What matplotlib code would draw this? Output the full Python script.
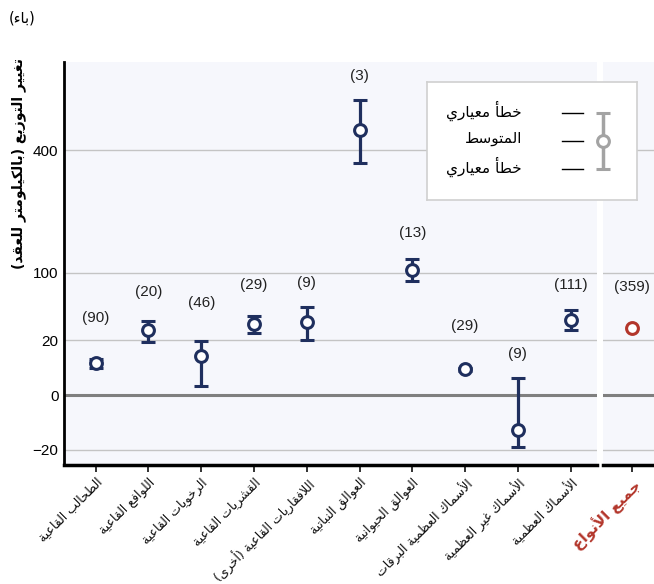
import numpy as np
import matplotlib
matplotlib.use("Agg")
import matplotlib.pyplot as plt
from matplotlib.lines import Line2D

# ---- data ----
groups = ["الطحالب القاعية", "اللوافع القاعية", "الرخويات القاعية", "القشريات القاعية",
          "اللافقاريات القاعية (أخرى)", "العوالق النباتية", "العوالق الحيوانية",
          "الأسماك العظمية البرقات", "الأسماك غير العظمية", "الأسماك العظمية"]
means = [6.8, 28, 10, 34, 36, 469, 105, 4.4, -8, 38]
ses = [2.0, 9, 9.5, 8, 16, 111, 18, 0.5, 10, 10]
counts = [90, 20, 46, 29, 9, 3, 13, 29, 9, 111]

all_label = "جميع الأنواع"
all_mean = [30]
all_se = [1.0]
all_count = [359]

yticks = [-20, 0, 20, 100, 400]
ylabel = "تغيير التوزيع (بالكيلومتر للعقد)"
panel_tag = "(باء)"
legend_texts = ["خطأ معياري", "المتوسط", "خطأ معياري"]

# label distance above the upper error bar (pixels)
label_pad = [41, 29, 38, 31, 24, 24, 26, 42, 24, 25]
all_pad = [40]

# ---- simple arabic shaping (presentation forms) ----
AR_LETTERS = "ءآأؤإئابةتثجحخدذرزسشصضطظعغفقكلمنهوىي"
AR_NFORMS = [1, 2, 2, 2, 2, 4, 2, 4, 2] + [4] * 5 + [2] * 4 + [4] * 15 + [2, 2, 4]
TABLE = {}
pos = 0xFE80
for ch, n in zip(AR_LETTERS, AR_NFORMS):
    TABLE[ch] = (pos, n)
    pos += n
LAM_ALEF = {"آ": 0xFEF5, "أ": 0xFEF7, "إ": 0xFEF9, "ا": 0xFEFB}
MIRROR = {"(": ")", ")": "("}


def joins_next(u):
    return isinstance(u, str) and u in TABLE and TABLE[u][1] == 4


def joins_prev(u):
    if isinstance(u, tuple):
        return True
    return u in TABLE and TABLE[u][1] >= 2


def ar(text):
    units = []
    i = 0
    while i < len(text):
        c = text[i]
        if c == "ل" and i + 1 < len(text) and text[i + 1] in LAM_ALEF:
            units.append(("LA", text[i + 1]))
            i += 2
        else:
            units.append(c)
            i += 1
    out = []
    for k, u in enumerate(units):
        prev = units[k - 1] if k > 0 else None
        nxt = units[k + 1] if k + 1 < len(units) else None
        cp = prev is not None and joins_next(prev)
        if isinstance(u, tuple):
            out.append(chr(LAM_ALEF[u[1]] + (1 if cp else 0)))
            continue
        if u not in TABLE:
            out.append(MIRROR.get(u, u))
            continue
        start, n = TABLE[u]
        if n == 1:
            out.append(chr(start))
            continue
        cn = n == 4 and nxt is not None and joins_prev(nxt)
        f = 3 if (cp and cn) else 1 if cp else 2 if cn else 0
        out.append(chr(start + f))
    return "".join(reversed(out))


# ---- style ----
navy = "#1f2f5e"
red = "#b3362b"
bg = "#f6f7fc"
ARF = ["DejaVu Sans"]
NUMF = ["Liberation Sans", "DejaVu Sans"]


def fwd(y):
    y = np.asarray(y, dtype=float)
    return np.sign(y) * np.sqrt(np.abs(y))


def inv(y):
    y = np.asarray(y, dtype=float)
    return np.sign(y) * y ** 2


W, H = 654, 584
fig = plt.figure(figsize=(W / 100, H / 100), dpi=100)
ax = fig.add_axes([64 / W, 1 - 465 / H, (597 - 64) / W, (465 - 62) / H])
ax2 = fig.add_axes([603 / W, 1 - 465 / H, 51 / W, (465 - 62) / H])

ymin, ymax = -32.6, 739

for a in (ax, ax2):
    a.set_facecolor(bg)
    a.set_yscale("function", functions=(fwd, inv))
    a.set_ylim(ymin, ymax)
    for t in yticks:
        if t == 0:
            a.axhline(0, color="#7f7f7f", lw=2.2, zorder=1)
        else:
            a.axhline(t, color="#c4c4c4", lw=1, zorder=1)
    for s in ("top", "right"):
        a.spines[s].set_visible(False)
    a.spines["bottom"].set_linewidth(2.5)
    a.tick_params(axis="x", length=5, width=1.3, color="#222222", pad=3)

ax2.spines["left"].set_visible(False)
ax.spines["left"].set_linewidth(2)

x = np.arange(len(groups))
ax.errorbar(x, means, yerr=ses, fmt="o", color=navy, ecolor=navy, elinewidth=2.3,
            capsize=5, capthick=2.3, ms=8.5, mfc="white", mec=navy, mew=2.2, zorder=3)
ax.set_xlim(-0.6, len(groups) - 0.5)
for xi, m, s, c, p in zip(x, means, ses, counts, label_pad):
    ax.annotate(f"({c})", (xi, m + s), xytext=(0, p * 0.72), textcoords="offset points",
                ha="center", va="center", fontsize=11, family=NUMF, color="#222222")

ax2.errorbar([0], all_mean, yerr=all_se, fmt="o", color=red, ecolor=red, elinewidth=2,
             capsize=3, ms=8.5, mfc="white", mec=red, mew=2.2, zorder=3)
ax2.set_xlim(-0.55, 0.42)
for m, s, c, p in zip(all_mean, all_se, all_count, all_pad):
    ax2.annotate(f"({c})", (0, m + s), xytext=(0, p * 0.72), textcoords="offset points",
                 ha="center", va="center", fontsize=11, family=NUMF, color="#222222")

ax.set_yticks(yticks)
ax.set_yticklabels([str(t).replace("-", "\u2212") for t in yticks], family=NUMF, fontsize=11)
ax.tick_params(axis="y", length=0, pad=4)
ax2.set_yticks([])
ax2.tick_params(axis="y", length=0)

ax.set_xticks(x)
ax.set_xticklabels([ar(g) for g in groups], rotation=45, ha="right",
                   rotation_mode="anchor", fontsize=9, family=ARF, color="#111111")
ax2.set_xticks([0])
ax2.set_xticklabels([ar(all_label)], rotation=45, ha="right", rotation_mode="anchor",
                    fontsize=11, family=ARF, color=red, fontweight="bold")

fig.text(19 / W, 1 - 163 / H, ar(ylabel), rotation=90, ha="center", va="center",
         fontsize=10, fontweight="bold", family=ARF)
fig.text(9 / W, 1 - 18 / H, ar(panel_tag), ha="left", va="center", fontsize=10.5, family=ARF)

# ---- legend box ----
lg = fig.add_axes([427 / W, 1 - 200 / H, 210 / W, 118 / H])
lg.set_xlim(0, 210)
lg.set_ylim(118, 0)
lg.set_xticks([])
lg.set_yticks([])
lg.set_facecolor("white")
for s in lg.spines.values():
    s.set_color("#d0d0d0")
    s.set_linewidth(1.2)
lg.errorbar([176], [59], yerr=[[28], [28]], fmt="o", color="#a3a3a3", elinewidth=2.5,
            capsize=5, capthick=2.5, ms=8.5, mfc="white", mec="#a3a3a3", mew=2.2)
for yy, t in zip([31, 59, 87], legend_texts):
    lg.add_line(Line2D([135, 156], [yy, yy], color="black", lw=1))
    lg.text(95, yy - 2, ar(t), ha="right", va="center", fontsize=11, family=ARF)

fig.savefig("out.png", dpi=100)
